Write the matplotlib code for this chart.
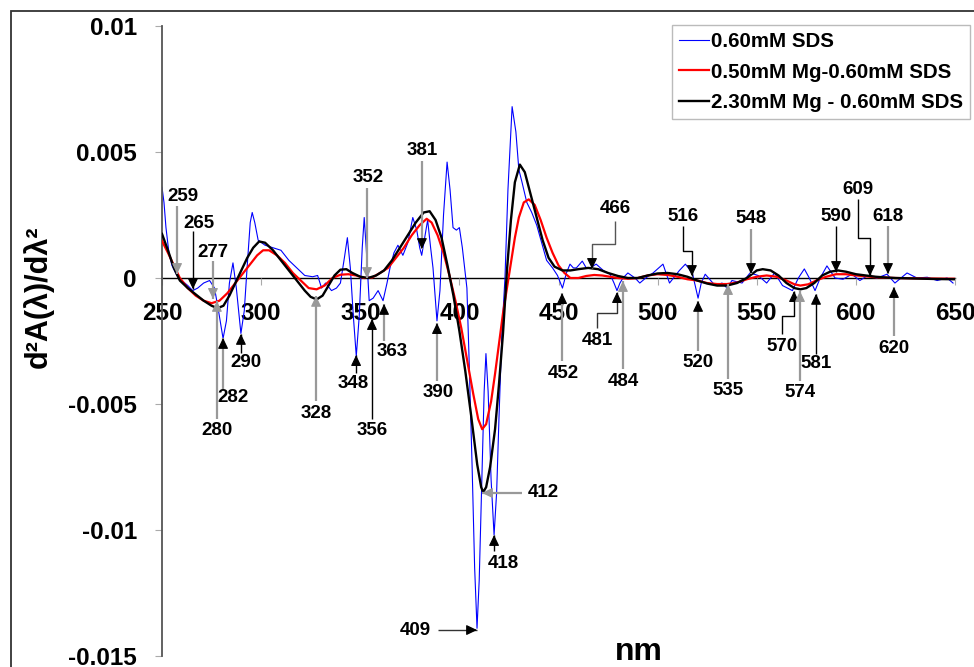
import numpy as np
import matplotlib.pyplot as plt
from matplotlib.patches import Rectangle

plt.rcParams['font.family'] = ['Liberation Sans', 'DejaVu Sans']
plt.rcParams['font.weight'] = 'bold'

# --- data ---
blue_x = [250, 251, 252, 253.5, 255, 257.5, 260, 263, 265.5, 268, 271, 274, 276.5, 278.5, 280.8,
          282.5, 284, 285.8, 287.5, 289.8, 291.5, 293, 294.5, 295.5, 296.8, 298.5, 302, 306, 310,
          314, 318, 322, 326, 328.5, 330.5, 332.5, 335.5, 338, 340, 342, 343.5, 345, 346.5, 348,
          349.5, 351, 352, 353, 354.5, 356.5, 359, 361.5, 363.5, 365, 367, 369, 371.5, 374, 376.5,
          378.5, 380, 381, 382.5, 384, 385.5, 386.7, 388.7, 390.2, 392, 393.8, 395.3, 396.8, 398.5,
          400, 401.5, 403.8, 405, 406.4, 407.7, 408.9, 410, 411.5, 412.5, 413.4, 414.5, 416, 417.5,
          418.8, 420, 421.5, 423, 424.5, 426.6, 428.5, 430, 431.6, 434, 436.5, 439, 441.5, 444, 447,
          449.5, 452, 454, 455.8, 457.5, 459, 462, 464, 466, 469, 472.6, 476, 478, 479.5, 481, 482.5,
          485, 488.6, 491, 494, 497.7, 502.7, 506, 508, 511, 514, 517.5, 520.4, 522, 524, 529, 532.5,
          535, 537.5, 542.6, 546.6, 550.7, 555, 559, 563, 568, 571, 574, 576.5, 579.4, 582, 585.4,
          589.5, 593.5, 598, 602, 606, 610.6, 615.7, 619.7, 625.8, 630.8, 636, 641, 646, 649]
blue_y = [0.0036, 0.0030, 0.0020, 0.0010, 0.0005, 0.0001, -0.0001, -0.0003, -0.0005, -0.0004, -0.0002,
          -0.0001, -0.0004, -0.0013, -0.0024, -0.0017, -0.0002, 0.0006, -0.0004, -0.0022, -0.0013,
          0.0005, 0.0022, 0.0026, 0.0022, 0.0015, 0.0013, 0.0012, 0.0011, 0.0007, 0.0004, 0.0001,
          0.00005, 0.0001, -0.0004, -0.0002, -0.0005, -0.0004, -0.0002, 0.0008, 0.0016, 0.0004,
          -0.0015, -0.0031, -0.0015, 0.0012, 0.0024, 0.0012, -0.0009, -0.0008, -0.0005, -0.0009,
          -0.0002, 0.0004, 0.0010, 0.0013, 0.0009, 0.0014, 0.0024, 0.0019, 0.0012, 0.0009, 0.0016,
          0.0023, 0.0012, 0.0004, -0.0017, -0.0005, 0.0025, 0.0046, 0.0035, 0.0020, 0.0019, 0.0020,
          0.0012, -0.0004, -0.0035, -0.0074, -0.0115, -0.0139, -0.0120, -0.0075, -0.0045, -0.0030,
          -0.0045, -0.0080, -0.0102, -0.0085, -0.0055, -0.0021, 0.0, 0.0035, 0.0068, 0.0058, 0.0043,
          0.0038, 0.0030, 0.0026, 0.0021, 0.0014, 0.0007, 0.0004, 0.0001, -0.0004, 0.0002, 0.00055,
          0.0004, 0.0004, 0.00067, 0.0004, 0.0004, 0.00055, 0.0003, 0.00015, -0.0002, -0.0005,
          -0.0002, 0.0, 0.0002, 0.0, -0.0002, 0.0, 0.0002, 0.00055, -0.0002, 0.0, 0.0003, 0.00055,
          0.0002, -0.0008, -0.0002, 0.00015, -0.0003, -0.0002, -0.0004, -0.0001, -0.0002, 0.0002,
          0.0001, -0.0002, 0.0002, -0.0003, -0.0005, 0.0, 0.00036, 0.0, -0.0005, 0.0, 0.00048, 0.0,
          -0.00005, 0.00015, -0.0001, 0.0001, 0.0, 0.00015, -0.0002, 0.0002, 0.0, 0.00003, -0.0001,
          0.0, -0.0002]

red_x = [250, 253, 256, 259, 263, 267, 271, 275, 279, 283, 287, 291, 295, 298, 301, 304, 308, 312,
         316, 320, 324, 328, 332, 336, 340, 344, 348, 352, 356, 360, 364, 368, 372, 376, 380, 383.5,
         386, 389, 392, 395, 398, 401, 404, 407, 409.5, 411.5, 413.5, 416, 418, 420, 422, 424, 426,
         428, 430, 432.5, 435, 438, 441, 444, 447, 450, 453, 456, 460, 464, 468, 472, 476, 480, 485,
         490, 495, 500, 505, 510, 515, 520, 525, 530, 535, 540, 545, 550, 555, 560, 565, 569, 572,
         576, 580, 585, 590, 595, 600, 610, 620, 635, 650]
red_y = [0.00147, 0.0010, 0.0005, 0.0, -0.0004, -0.0007, -0.0009, -0.0010, -0.0009, -0.0006, -0.0002,
         0.0002, 0.0006, 0.0009, 0.0011, 0.0011, 0.0009, 0.0006, 0.0002, -0.0001, -0.0004, -0.00045,
         -0.0003, 0.0, 0.00013, 0.00015, 0.0001, 0.0, 0.00002, 0.0002, 0.0004, 0.0008, 0.0012, 0.0017,
         0.0021, 0.00235, 0.0022, 0.0017, 0.0010, 0.0001, -0.0009, -0.0020, -0.0033, -0.0046, -0.0056,
         -0.0060, -0.0058, -0.0049, -0.0038, -0.0026, -0.0014, -0.0004, 0.0006, 0.0016, 0.0024,
         0.0030, 0.00312, 0.0029, 0.0023, 0.0016, 0.0010, 0.0005, 0.0002, 0.0, 0.0, 0.00008, 0.00012,
         0.0001, 0.00005, 0.0, -0.00003, 0.0, 0.0001, 0.00015, 0.00012, 0.00005, -0.00005, -0.0001,
         -0.0002, -0.00024, -0.00024, -0.00018, -0.00005, 0.00005, 0.0001, 0.00005, -0.0001, -0.00025,
         -0.0003, -0.00025, -0.0001, 0.00005, 0.00015, 0.00015, 0.0001, 0.00003, 0.0, -0.00002, -0.00003]

black_x = [250, 253, 256, 259, 263, 267, 271, 275, 278, 281, 284, 287, 290, 293, 296, 299, 302, 306,
           310, 314, 318, 322, 325, 328, 331, 334, 337, 340, 343, 346, 350, 354, 358, 362, 366, 370,
           374, 378, 382, 385, 388, 391, 394, 397, 400, 403, 406, 409, 411, 412, 413.5, 415.5, 418,
           420, 422, 424, 426, 428, 430.5, 433, 436, 439, 442, 445, 448, 452, 456, 460, 465, 470, 475,
           480, 485, 490, 495, 500, 505, 510, 515, 520, 525, 530, 535, 540, 545, 550, 553, 557, 561,
           565, 569, 572, 575, 579, 583, 587, 591, 595, 600, 605, 610, 615, 620, 630, 640, 650]
black_y = [0.00175, 0.0011, 0.0004, -0.0001, -0.0004, -0.00065, -0.0009, -0.0011, -0.0012, -0.0011,
           -0.0007, -0.0002, 0.0003, 0.0008, 0.0012, 0.00145, 0.0014, 0.0011, 0.0007, 0.0003, -0.0001,
           -0.0005, -0.00075, -0.00085, -0.0007, -0.0003, 0.0001, 0.00033, 0.00035, 0.0002, 0.00005,
           0.0, 0.0001, 0.0003, 0.0007, 0.0012, 0.0017, 0.0022, 0.0026, 0.00265, 0.0023, 0.0016,
           0.0005, -0.0007, -0.0021, -0.0037, -0.0055, -0.0074, -0.0083, -0.0085, -0.0083, -0.0075,
           -0.0060, -0.0042, -0.0022, 0.0003, 0.0023, 0.0038, 0.0045, 0.0042, 0.0033, 0.0024, 0.0015,
           0.0008, 0.00045, 0.0003, 0.0003, 0.00035, 0.0004, 0.00035, 0.0002, 0.00008, 0.0, 0.0,
           0.0001, 0.00018, 0.0002, 0.00015, 0.00005, -0.0001, -0.00022, -0.0003, -0.0003, -0.0002,
           0.0, 0.0003, 0.00035, 0.0003, 0.0001, -0.0002, -0.0004, -0.00045, -0.0004, -0.0002, 0.0001,
           0.00025, 0.0003, 0.00025, 0.00015, 0.0001, 0.00005, 0.00002, 0.0, -0.00002, -0.00004, -0.00005]

series_labels = ['0.60mM SDS', '0.50mM Mg-0.60mM SDS', '2.30mM Mg - 0.60mM SDS']

x_ticks = [250, 300, 350, 400, 450, 500, 550, 600, 650]
y_ticks = [0.01, 0.005, 0, -0.005, -0.01, -0.015]
y_tick_labels = ['0.01', '0.005', '0', '-0.005', '-0.01', '-0.015']

# peak labels and arrow tips (nm, value)
ann_labels = ['259', '265', '277', '280', '282', '290', '328', '348', '352', '356', '363', '381',
              '390', '409', '412', '418', '452', '466', '481', '484', '516', '520', '535', '548',
              '570', '574', '581', '590', '609', '618', '620']
ann_x = [257.6, 265.6, 275.7, 277.7, 280.8, 289.8, 327.7, 347.9, 353.4, 355.9, 362.0, 381.1,
         388.7, 408.9, 411.4, 417.5, 451.8, 466.9, 479.5, 482.5, 517.3, 520.4, 535.5, 547.1,
         568.8, 571.8, 579.9, 590.0, 607.1, 616.2, 619.2]
ann_y = [0.00016, -0.00044, -0.00083, -0.00091, -0.00238, -0.00222, -0.00071, -0.00306, 0.0,
         -0.00163, -0.00103, 0.00115, -0.00179, -0.01397, -0.00853, -0.0102, -0.0006, 0.00036,
         -0.00056, -0.00012, 0.00008, -0.00091, -0.00024, 0.00016, -0.00052, -0.00052, -0.00063,
         0.00024, 0.00008, 0.00016, -0.00036]

# layout of the labels: text position, path of the leader line (ends at the tip), line / head colour
G, K = '#999999', 'black'
ann_layout = [
    ((260.6, 0.00325), [(257.6, 0.00286)], G, G),
    ((268.7, 0.00218), [(265.6, 0.00187)], K, K),
    ((275.7, 0.00100), [(275.7, 0.00067)], G, G),
    ((277.7, -0.00607), [(277.7, -0.0056)], G, G),
    ((285.8, -0.00476), [(280.8, -0.00448)], G, K),
    ((292.4, -0.00337), [(289.8, -0.00298)], K, K),
    ((327.7, -0.00536), [(327.7, -0.00488)], G, G),
    ((346.3, -0.0042), [(347.9, -0.00377)], K, K),
    ((353.9, 0.00397), [(353.4, 0.00357)], G, G),
    ((355.9, -0.00607), [(355.9, -0.0056)], K, K),
    ((366.0, -0.0029), [(362.0, -0.0025)], G, K),
    ((381.1, 0.00504), [(381.1, 0.00464)], G, K),
    ((389.2, -0.00456), [(388.7, -0.0041)], G, K),
    ((377.6, -0.01397), [(389.2, -0.01397)], '#333333', K),
    ((442.2, -0.00853), [(431.6, -0.00853)], G, G),
    ((422.0, -0.01131), [(417.5, -0.01083)], K, K),
    ((452.3, -0.00377), [(451.8, -0.0033)], G, K),
    ((478.5, 0.00274), [(478.5, 0.00226), (478.5, 0.00135), (466.9, 0.00135)], '#555555', K),
    ((469.4, -0.0025), [(469.4, -0.00198), (469.4, -0.00139), (479.5, -0.00139)], '#333333', K),
    ((482.5, -0.00409), [(482.5, -0.0036)], G, G),
    ((512.8, 0.00246), [(512.8, 0.00206), (512.8, 0.00107), (517.3, 0.00107)], K, K),
    ((520.4, -0.00337), [(520.4, -0.0029)], G, K),
    ((535.5, -0.00448), [(535.5, -0.0040)], G, G),
    ((547.1, 0.00238), [(547.1, 0.00194)], G, K),
    ((562.7, -0.0027), [(562.7, -0.00222), (562.7, -0.00151), (568.8, -0.00151)], K, K),
    ((571.8, -0.00456), [(571.8, -0.0041)], G, G),
    ((579.9, -0.00341), [(579.9, -0.0030)], K, K),
    ((590.0, 0.00246), [(590.0, 0.00206)], K, K),
    ((601.1, 0.00353), [(601.1, 0.00313), (601.1, 0.00159), (607.1, 0.00159)], K, K),
    ((616.2, 0.00246), [(616.2, 0.00206)], G, K),
    ((619.2, -0.00278), [(619.2, -0.0023)], G, K),
]

fig = plt.figure(figsize=(9.74, 6.67), dpi=100)
fig.patches.append(Rectangle((11 / 974, -0.5), 2, 0.5 + 1 - 11 / 667, transform=fig.transFigure,
                             fill=False, edgecolor='#333333', lw=1.3))
ax = fig.add_axes([162 / 974, 1 - 656 / 667, 793 / 974, (656 - 26) / 667])

ax.plot(blue_x, blue_y, color='#0000ff', lw=0.8, label=series_labels[0], zorder=2)
ax.plot(red_x, red_y, color='#ff0000', lw=1.6, label=series_labels[1], zorder=3)
ax.plot(black_x, black_y, color='black', lw=1.7, label=series_labels[2], zorder=4)

ax.set_xlim(250, 650)
ax.set_ylim(-0.015, 0.01)
ax.spines['top'].set_visible(False)
ax.spines['right'].set_visible(False)
ax.spines['bottom'].set_position(('data', 0))
ax.spines['bottom'].set_color('black')
ax.spines['bottom'].set_linewidth(1.0)
ax.spines['bottom'].set_zorder(1)
ax.spines['left'].set_color('#555555')
ax.spines['left'].set_linewidth(1.3)
ax.set_xticks(x_ticks)
ax.set_xticklabels([str(v) for v in x_ticks])
ax.set_yticks(y_ticks)
ax.set_yticklabels(y_tick_labels)
ax.tick_params(axis='x', direction='out', length=5, color='#aaaaaa', pad=12, labelsize=17.5)
ax.tick_params(axis='y', direction='out', length=5, color='#aaaaaa', pad=13, labelsize=17.5)
for t in ax.get_xticklabels() + ax.get_yticklabels():
    t.set_fontweight('bold')

# peak labels
for lab, tx, ty, (tpos, path, lc, hc) in zip(ann_labels, ann_x, ann_y, ann_layout):
    pts = path + [(tx, ty)]
    xs = [p[0] for p in pts]
    ys = [p[1] for p in pts]
    lw = 1.6 if lc == G else 1.0
    ax.plot(xs, ys, color=lc, lw=lw, solid_capstyle='butt', zorder=5)
    px, py = pts[-2]
    if px == tx:
        off = (0, 7) if py > ty else (0, -7)
    else:
        off = (-7, 0) if px < tx else (7, 0)
    ax.annotate('', xy=(tx, ty), xytext=off, textcoords='offset points',
                arrowprops=dict(arrowstyle='-|>,head_length=0.5,head_width=0.24', color=hc,
                                lw=0.8, shrinkA=0, shrinkB=0, mutation_scale=13), zorder=6)
    ax.text(tpos[0], tpos[1], lab, ha='center', va='center', fontsize=13.5,
            fontweight='bold', zorder=6)

leg = ax.legend(loc='upper left', bbox_to_anchor=(672 / 974, 1 - 25 / 667),
                bbox_transform=fig.transFigure, fontsize=14.8, frameon=True, fancybox=False,
                handlelength=1.45, handletextpad=0.1, labelspacing=0.55, borderpad=0.35,
                borderaxespad=0)
leg.get_frame().set_edgecolor('#aaaaaa')
leg.get_frame().set_linewidth(1.0)
for t in leg.get_texts():
    t.set_fontweight('bold')

fig.text(38 / 974, 1 - 297 / 667, 'd²A(λ)/dλ²', rotation=90, ha='center', va='center',
         fontsize=22, fontweight='bold')
fig.text(639 / 974, 1 - 652 / 667, 'nm', ha='center', va='center', fontsize=23,
         fontweight='bold')

plt.savefig('out.png', dpi=100)
plt.close()
